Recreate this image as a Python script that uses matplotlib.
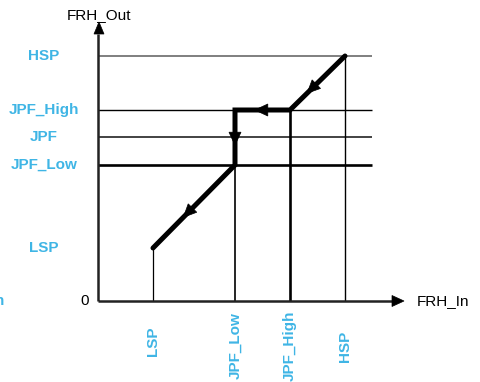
import matplotlib
matplotlib.use("Agg")
import matplotlib.pyplot as plt
import numpy as np
from matplotlib.patches import Polygon

plt.rcParams['font.family'] = ['Liberation Sans', 'DejaVu Sans']

# Speed set points on the input (FRH_In) axis
in_names = ["LSP", "JPF_Low", "JPF_High", "HSP"]
in_values = [55, 137, 192, 247]

# Speed set points on the output (FRH_Out) axis
out_names = ["HSP", "JPF_High", "JPF", "JPF_Low", "LSP"]
out_values = [245, 191, 164, 136, 53]

# Transfer path, traversed from HSP down to LSP
path_in = [247, 192, 137, 137, 55]
path_out = [245, 191, 191, 136, 53]

BLUE = "#3fb5e5"

fig = plt.figure(figsize=(4.81, 3.82), dpi=100)
ax = fig.add_axes([0, 0, 1, 1])
ax.set_xlim(-98, 383)
ax.set_ylim(-81, 301)
ax.set_aspect("auto")
ax.axis("off")

out_val = dict(zip(out_names, out_values))
in_val = dict(zip(in_names, in_values))
x_end = 274

# Horizontal reference lines
h_styles = {"HSP": ("#7f7f7f", 1.4), "JPF_High": ("black", 1.0),
            "JPF": ("#222222", 1.2), "JPF_Low": ("black", 1.9)}
for name, (col, lw) in h_styles.items():
    ax.plot([0, x_end], [out_val[name]] * 2, color=col, lw=lw, solid_capstyle="butt", zorder=2)

# Vertical reference lines
v_styles = {"LSP": ("LSP", 0.9), "JPF_Low": ("JPF_Low", 1.2),
            "JPF_High": ("JPF_High", 1.9), "HSP": ("HSP", 1.0)}
for name, (top, lw) in v_styles.items():
    ax.plot([in_val[name]] * 2, [0, out_val[top]], color="black", lw=lw, solid_capstyle="butt", zorder=2)

# Axes with arrow heads
ax.plot([0, 0], [0, 267], color="#222222", lw=1.8, solid_capstyle="butt", zorder=3)
ax.plot([0, 295], [0, 0], color="#222222", lw=1.8, solid_capstyle="butt", zorder=3)


def head(tip, direction, length=12.0, half=5.5, **kw):
    d = np.asarray(direction, float)
    d /= np.hypot(*d)
    n = np.array([-d[1], d[0]])
    tip = np.asarray(tip, float)
    base = tip - d * length
    poly = Polygon([tip, base + n * half, base - n * half], closed=True,
                   facecolor="black", edgecolor="black", lw=0.5, zorder=5, **kw)
    ax.add_patch(poly)


head((1, 279), (0, 1), length=12, half=5)
head((306, 0), (1, 0), length=12, half=5.5)

# Thick transfer path
ax.plot(path_in, path_out, color="black", lw=3.6, solid_joinstyle="miter",
        solid_capstyle="round", zorder=4)

# Direction arrows along each segment
fracs = [0.69, 0.64, 0.64, 0.63]
for i, f in enumerate(fracs):
    x0, y0 = path_in[i], path_out[i]
    x1, y1 = path_in[i + 1], path_out[i + 1]
    tip = (x0 + f * (x1 - x0), y0 + f * (y1 - y0))
    head(tip, (x1 - x0, y1 - y0), length=13, half=6)

# Labels on the output axis
for name, v in zip(out_names, out_values):
    ax.text(-54, v, name, color=BLUE, fontsize=11, fontweight="bold",
            ha="center", va="center")
ax.text(-94, 0, "Min", color=BLUE, fontsize=11, fontweight="bold",
        ha="right", va="center")
ax.text(-13, 0, "0", color="black", fontsize=11, ha="center", va="center")
ax.text(1, 286, "FRH_Out", color="black", fontsize=11, ha="center", va="center")
ax.text(319, 0, "FRH_In", color="black", fontsize=11, ha="left", va="center")

# Labels on the input axis
for name, v in zip(in_names, in_values):
    yc = -40 if name == "LSP" else -45
    ax.text(v, yc, name, color=BLUE, fontsize=11, fontweight="bold",
            ha="center", va="center", rotation=90)

fig.savefig("out.png", dpi=100)
